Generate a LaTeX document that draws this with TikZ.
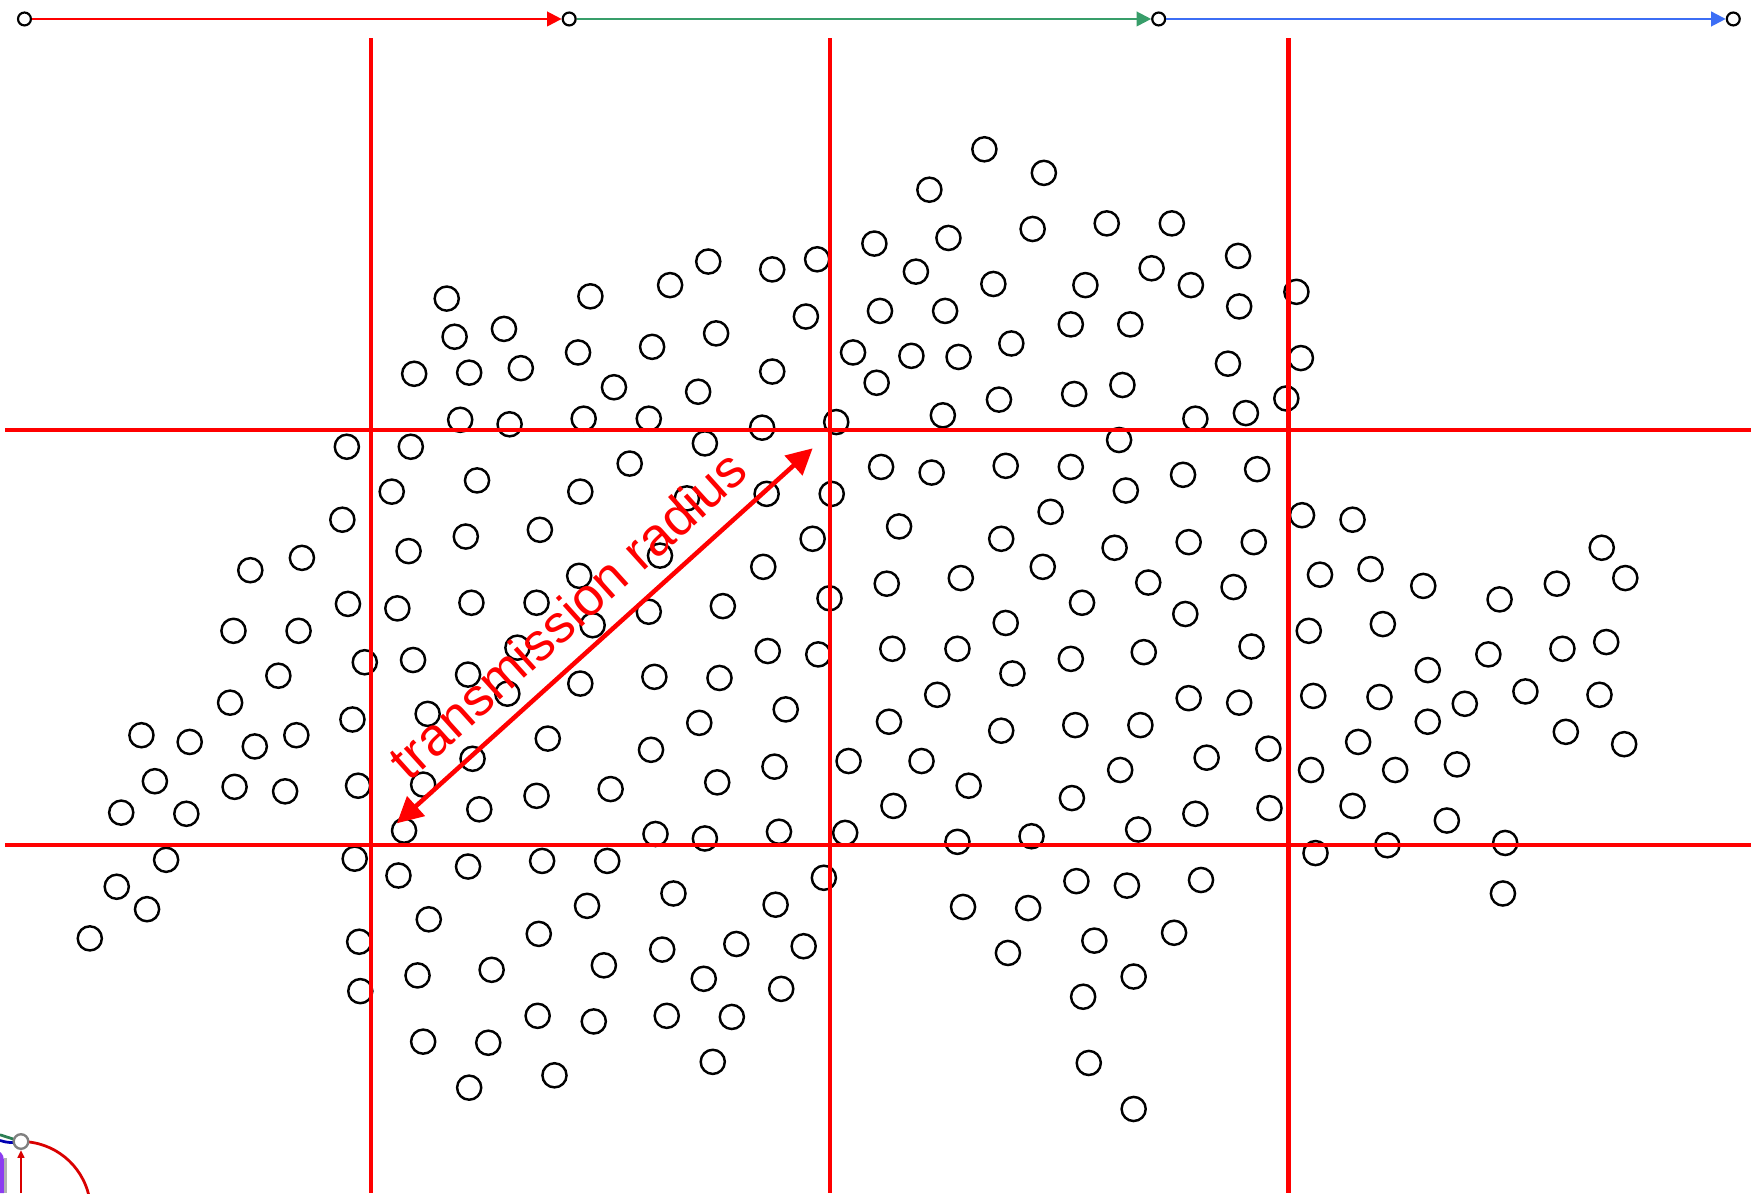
\documentclass[tikz,border=0pt]{standalone}
\usepackage{fontspec}
\newfontfamily\labelfont{Liberation Sans}
\usetikzlibrary{arrows.meta}
\definecolor{hopgreen}{RGB}{56,158,106}
\definecolor{hopblue}{RGB}{60,110,245}
\definecolor{fragpurple}{RGB}{140,60,240}
\begin{document}
\begin{tikzpicture}[
    x=0.01cm, y=-0.01cm,
    sensor/.style={circle, draw, line width=0.62pt, inner sep=0pt, minimum size=0.215cm},
    hop/.style={circle, draw, line width=0.55pt, inner sep=0pt, minimum size=0.115cm},
    hop edge/.style={line width=0.55pt, -{Triangle[length=0.13cm, width=0.13cm]}},
    grid line/.style={red, line width=1.1pt},
    radius arrow/.style={red, line width=1.15pt,
        {Triangle[length=0.23cm, width=0.23cm]}-{Triangle[length=0.23cm, width=0.23cm]}},
    radius label/.style={text=red, inner sep=0pt, anchor=base,
        font=\labelfont\fontsize{13.5}{16}\selectfont}
]
\useasboundingbox (0,0) rectangle (1568,1063);

\foreach \px/\py [count=\k] in {
    877/133, 930/154, 828/169, 845/212, 920/204, 986/199, 1044/199, 779/217,
    1103/228, 728/231, 631/233, 688/240, 816/242, 1026/239, 885/253, 967/254,
    1061/254, 597/254, 526/264, 398/266, 1155/260, 784/277, 842/277, 1104/273,
    718/282, 449/293, 405/300, 638/297, 954/289, 1007/289, 581/309, 515/314,
    901/306, 760/314, 812/317, 854/318, 1159/319, 464/328, 369/333, 418/332,
    688/331, 1094/324, 781/341, 547/345, 622/349, 957/351, 1000/343, 890/356,
    1146/355, 410/374, 454/378, 520/373, 578/373, 679/381, 745/376, 840/370,
    1065/373, 1110/368,
    309/398, 305/463, 223/508, 269/497, 310/538, 208/562, 266/562, 325/590,
    248/602, 205/626, 314/641, 126/655, 169/661, 227/665, 264/655, 138/696,
    209/701, 254/705, 319/700, 108/724, 166/725,
    366/398, 349/438, 425/428, 628/395, 561/413, 364/491, 415/478, 481/472,
    517/438, 516/513, 612/444, 683/440, 741/440, 724/480, 588/495, 680/505,
    354/542, 420/537, 478/537, 528/557, 578/545, 644/540, 739/533, 368/588,
    417/601, 461/577, 452/618, 517/609, 583/603, 641/604, 684/580, 729/583,
    381/636, 488/658, 421/676, 580/668, 623/644, 700/632, 690/683, 639/697,
    377/699, 478/709, 544/703, 427/721, 360/740,
    785/416, 830/421, 896/415, 954/416, 997/392, 1003/437, 1054/423, 1120/418,
    801/469, 936/456, 892/480, 993/488, 1059/483, 1117/483, 1160/459, 1205/463,
    790/520, 856/515, 929/505, 1023/519, 1099/523, 964/537, 896/555, 1056/547,
    795/578, 853/578, 954/587, 1019/581, 1115/576, 902/600, 835/619, 1059/622,
    1104/626, 792/643, 892/651, 958/646, 1016/646, 756/678, 821/678, 863/700,
    998/686, 1075/675, 1130/667, 796/718, 955/711, 1065/725, 1131/720,
    1176/512, 1221/507, 1268/522, 1336/534, 1387/520, 1427/488, 1448/515,
    1166/562, 1232/556, 1326/583, 1392/578, 1431/572, 1272/597, 1170/620,
    1229/621, 1305/627, 1359/616, 1425/619, 1272/643, 1395/652, 1447/663,
    1210/661, 1168/686, 1243/686, 1298/681, 1205/718, 1289/731, 1172/760,
    1236/753, 1341/751, 1339/796,
    148/766, 104/790, 131/810, 80/836, 316/765, 320/839, 321/883, 355/780,
    417/772, 483/767, 541/767, 584/743, 628/747, 694/741, 753/742, 382/819,
    523/807, 600/796, 691/806, 734/782, 480/832, 372/869, 438/864, 538/860,
    590/846, 656/841, 716/843, 627/872, 696/881, 377/928, 435/929, 479/905,
    529/910, 594/905, 652/906, 635/946, 418/969, 494/958, 853/750, 919/745,
    1014/739, 858/808, 916/809, 959/785, 1004/789, 1070/784, 975/838, 1046/831,
    898/849, 1010/870, 965/888, 970/947, 1010/988}
    \node[sensor] (s\k) at (\px,\py) {};

\foreach \gx in {330.8, 739.4, 1148}
    \draw[grid line] (\gx,34.1) -- (\gx,1063);
\foreach \gy in {382.8, 752.8}
    \draw[grid line] (4.7,\gy) -- (1560,\gy);

\node[hop] (h0) at (21.8,16.9) {};
\node[hop] (h1) at (507.1,16.9) {};
\node[hop] (h2) at (1032.3,16.9) {};
\node[hop] (h3) at (1544.2,16.9) {};
\draw[hop edge, red] (h0) -- (h1);
\draw[hop edge, hopgreen] (h1) -- (h2);
\draw[hop edge, hopblue] (h2) -- (h3);

\coordinate (rlow) at (353.6,733.5);
\coordinate (rhigh) at (724,399.4);
\draw[radius arrow] (rlow) -- (rhigh);
\node[radius label, rotate=42.05] (rlabel) at (517,560) {transmission radius};

\coordinate (fragc) at (18.7,1017);
\coordinate (fragin) at (0,1011);
\coordinate (fragin2) at (0,1016);
\coordinate (fragbase) at (18.7,1063);
\draw[fragpurple, line width=0.9pt, rounded corners=2pt] (-2,1026) -- (1.8,1026) -- (1.8,1063);
\draw[gray!60, line width=0.9pt] (5,1032) -- (5,1063);
\draw[hopgreen!80!black, line width=0.7pt] (fragin) -- (fragc);
\draw[blue!70!black, line width=0.7pt] (fragin2) to[bend right=15] (fragc);
\draw[red!85!black, line width=0.7pt] (fragc) arc[start angle=90, end angle=12, radius=0.62cm];
\node[circle, draw=gray, fill=white, line width=0.6pt, inner sep=0pt, minimum size=0.13cm] (frag) at (fragc) {};
\draw[red!85!black, line width=0.6pt, -{Triangle[length=0.07cm, width=0.06cm]}] (fragbase) -- (frag.south);
\end{tikzpicture}
\end{document}
